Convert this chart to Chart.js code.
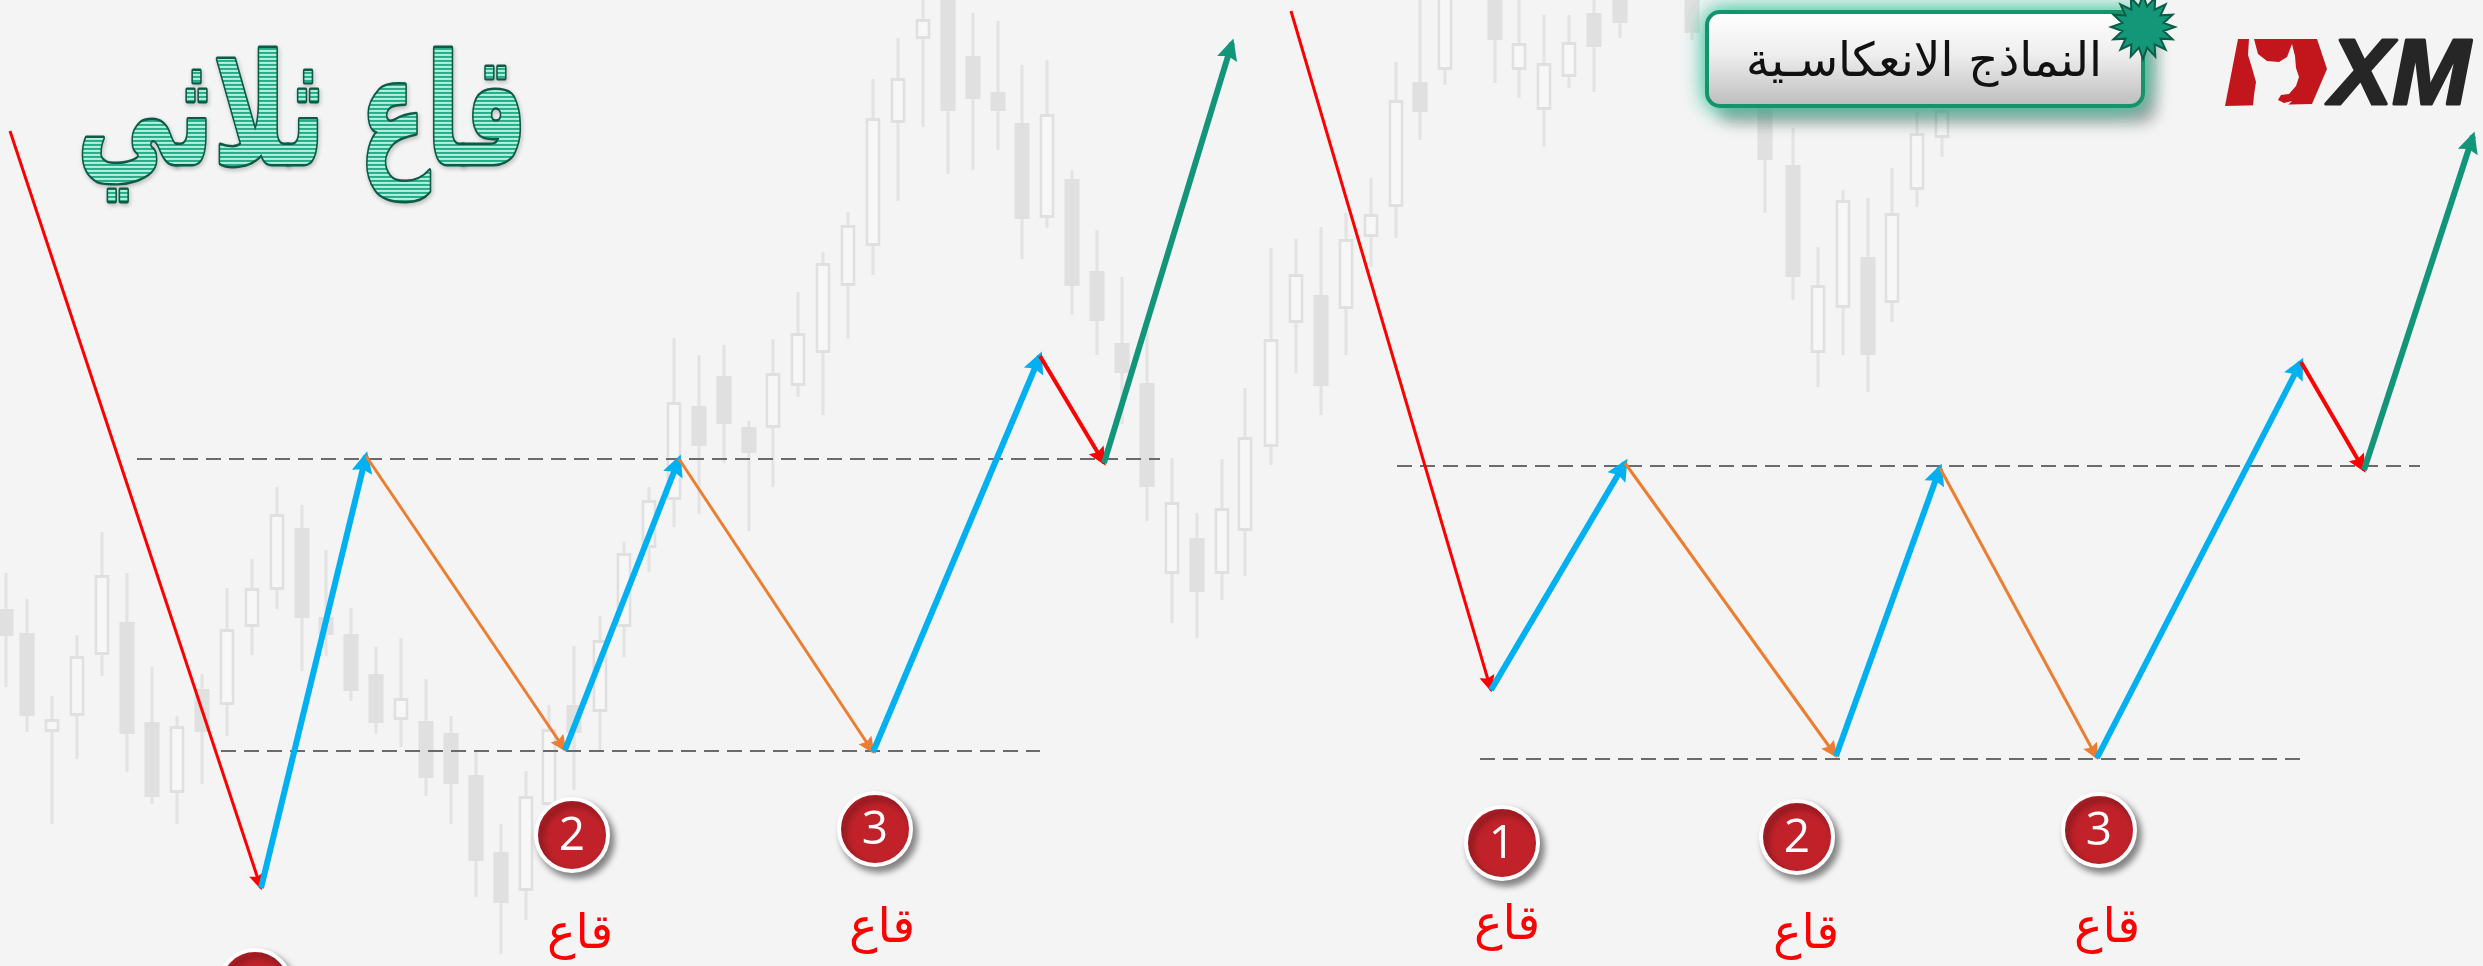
<!DOCTYPE html>
<html lang="ar">
<head>
<meta charset="utf-8">
<title>قاع ثلاثي</title>
<script src="https://cdn.jsdelivr.net/npm/chart.js@4.4.1/dist/chart.umd.min.js"></script>
<style>
  html, body { margin: 0; padding: 0; background: #f4f4f4; overflow: hidden; }
  canvas { display: block; }
</style>
</head>
<body>
<canvas id="patternChart" width="2483" height="966"></canvas>
<script>
// faded candles in the background (x, body top/bottom, wick top/bottom)
const candleX = [6,27,52,77,102,127,152,177,202,227, 252,277,302,326,351,376,401,426,451,476,
  501,526,549,574,600,624,649,674,699,724, 749,773,798,823,848,873,898,923,948,973,
  998,1022,1047,1072,1097,1122,1147,1172,1197,1222, 1245,1271,1296,1321,1346,1371,1396,1420,1445,1495,
  1519,1544,1569,1594,1620,1692,1765,1793,1818,1843, 1868,1892,1917,1942];
const bodyTop = [609,633,719,656,575,622,722,726,689,629, 588,514,528,617,634,674,698,721,733,775,
  852,796,729,705,640,553,500,402,406,376, 427,373,333,263,225,118,78,19,-10,56,
  92,123,114,179,271,343,383,502,538,508, 437,339,274,295,239,214,100,82,-10,-10,
  43,63,42,13,-10,-10,80,165,285,200, 257,213,133,110];
const bodyBottom = [636,716,732,716,655,734,797,793,732,705, 627,590,618,635,691,723,720,778,784,861,
  903,891,805,733,712,627,548,500,446,424, 453,428,386,353,286,246,123,39,111,99,
  111,219,218,286,321,373,487,574,592,574, 531,447,323,386,309,237,207,112,70,40,
  70,110,77,47,23,33,160,277,353,308, 355,303,190,138];
const wickTop = [573,599,696,635,532,573,667,716,674,588, 559,487,505,550,608,647,638,679,716,752,
  824,771,705,646,616,542,487,338,355,345, 421,339,292,252,212,79,38,0,-10,13,
  21,65,60,170,230,277,330,458,513,459, 388,248,239,227,213,178,62,-10,-10,-10,
  -10,15,15,-10,-10,-10,50,128,247,190, 198,168,112,60];
const wickBottom = [687,732,824,759,676,772,804,824,784,736, 655,609,671,656,701,734,747,796,824,897,
  954,920,852,790,752,657,572,527,514,463, 531,487,397,415,339,275,201,127,174,170,
  150,259,228,315,355,424,521,623,638,600, 576,465,373,415,355,267,238,140,85,83,
  98,147,88,92,38,40,213,300,387,355, 392,322,207,157];
const candleKind = 'FFHHHFFHFH' + 'HHFFFFHFFF' + 'FHHFHHHHFF' + 'FHHHHHHHFF' +
  'FFHFFFFHFH' + 'HHHFHHHFHF' + 'HHHFFFFFHH' + 'FHHH'; // F = filled, H = hollow

// the two zig-zag price paths (triple bottom)
const leftPathX = [10, 261, 366, 565, 679, 873, 1040, 1104, 1232];
const leftPathY = [131, 888, 456, 750, 459, 752, 356, 463, 43];
const rightPathX = [1291, 1491, 1625, 1836, 1940, 2097, 2301, 2364, 2473];
const rightPathY = [11, 690, 463, 756, 468, 758, 362, 470, 136];
const legColors = ['#ff0000', '#00b0f0', '#ed7d31', '#00b0f0', '#ed7d31', '#00b0f0', '#ff0000', '#13957a'];
const legWidths = [3, 6, 3, 6, 3, 6, 4, 6];

// resistance / support levels
const levelFromX = [137, 221, 1397, 1480];
const levelToX = [1160, 1040, 2420, 2301];
const levelY = [459, 751, 466, 759];

// numbered bottoms and their words
const bottomX = [255, 572, 875, 1502, 1797, 2099];
const bottomY = [986, 835, 829, 843, 837, 830];
const bottomNum = ['1', '2', '3', '1', '2', '3'];
const wordX = [258, 580, 882, 1507, 1806, 2107];
const wordY = [1088, 936, 930, 927, 936, 930];

const titleText = 'قاع ثلاثي';
const badgeText = 'النماذج الانعكاسـية';
const bottomWord = 'قاع';

const ctx = document.getElementById('patternChart').getContext('2d');

const filledBodies = [], hollowBodies = [], wicks = [];
candleX.forEach((x, i) => {
  wicks.push({ x, y: [wickTop[i], wickBottom[i]] });
  (candleKind[i] === 'H' ? hollowBodies : filledBodies).push({ x, y: [bodyTop[i], bodyBottom[i]] });
});

const datasets = [];
datasets.push({ type: 'bar', data: wicks, grouped: false, maxBarThickness: 3, backgroundColor: '#e3e3e3', order: 30 });
datasets.push({ type: 'bar', data: filledBodies, grouped: false, maxBarThickness: 18, backgroundColor: '#e0e0e0', borderWidth: 0, order: 29 });
datasets.push({ type: 'bar', data: hollowBodies, grouped: false, maxBarThickness: 18, backgroundColor: '#f7f7f7',
  borderColor: '#e0e0e0', borderWidth: 3, borderSkipped: false, order: 29 });

levelY.forEach((y, i) => {
  datasets.push({ type: 'line', data: [{ x: levelFromX[i], y }, { x: levelToX[i], y }],
    borderColor: '#6b6b6b', borderWidth: 2, borderDash: [15, 8], pointRadius: 0, order: 20 });
});

[[leftPathX, leftPathY], [rightPathX, rightPathY]].forEach(([px, py]) => {
  for (let i = 0; i < px.length - 1; i++) {
    datasets.push({ type: 'line', arrow: true,
      data: [{ x: px[i], y: py[i] }, { x: px[i + 1], y: py[i + 1] }],
      borderColor: legColors[i], borderWidth: legWidths[i], pointRadius: 0, order: 10 - i / 10 });
  }
});

datasets.push({ type: 'scatter', badges: true, data: bottomX.map((x, i) => ({ x, y: bottomY[i] })),
  pointRadius: 36, pointHoverRadius: 36, backgroundColor: '#c1222a', borderColor: '#ffffff', borderWidth: 4, order: 1 });

function drawHead(c, p0, p1, color, w) {
  const ang = Math.atan2(p1.y - p0.y, p1.x - p0.x);
  const len = 12 + w * 1.6, half = 5 + w * 0.9;
  c.save();
  c.translate(p1.x, p1.y);
  c.rotate(ang);
  c.translate(w * 0.8, 0);
  c.beginPath();
  c.moveTo(0, 0);
  c.lineTo(-len, -half);
  c.lineTo(-len * 0.85, 0);
  c.lineTo(-len, half);
  c.closePath();
  c.fillStyle = color;
  c.fill();
  c.restore();
}

function fitFont(c, text, weight, family, width, base) {
  c.font = weight + ' ' + base + 'px ' + family;
  return base * width / c.measureText(text).width;
}

function drawTitle(c) {
  const pat = document.createElement('canvas');
  pat.width = 4; pat.height = 4;
  const pc = pat.getContext('2d');
  pc.fillStyle = '#b4efdc'; pc.fillRect(0, 0, 4, 4);
  pc.fillStyle = '#25ad8a'; pc.fillRect(0, 0, 4, 2);
  // fit the word box to x 83..520, y 48..202
  c.save();
  c.font = 'bold 100px "DejaVu Sans"';
  c.direction = 'rtl';
  c.textAlign = 'left';
  c.textBaseline = 'alphabetic';
  const m = c.measureText(titleText);
  const bw = m.actualBoundingBoxLeft + m.actualBoundingBoxRight;
  const bh = m.actualBoundingBoxAscent + m.actualBoundingBoxDescent;
  const sx = 437 / bw, sy = 154 / bh;
  c.translate(83 + m.actualBoundingBoxLeft * sx, 48 + m.actualBoundingBoxAscent * sy);
  c.scale(sx, sy);
  c.lineJoin = 'round';
  c.shadowColor = 'rgba(0,0,0,0.25)';
  c.shadowBlur = 4;
  c.shadowOffsetX = 1; c.shadowOffsetY = 2;
  c.strokeStyle = '#0d5a45';
  c.lineWidth = 3.2;
  c.strokeText(titleText, 0, 0);
  c.shadowColor = 'transparent';
  c.setTransform(1, 0, 0, 1, 0, 0);
  c.fillStyle = c.createPattern(pat, 'repeat');
  c.translate(83 + m.actualBoundingBoxLeft * sx, 48 + m.actualBoundingBoxAscent * sy);
  c.scale(sx, sy);
  const p = c.fillStyle;
  if (p.setTransform) p.setTransform(new DOMMatrix([1 / sx, 0, 0, 1 / sy, 0, 0]));
  c.fillText(titleText, 0, 0);
  c.restore();
}

function roundRect(c, x, y, w, h, r) {
  c.beginPath();
  c.moveTo(x + r, y);
  c.arcTo(x + w, y, x + w, y + h, r);
  c.arcTo(x + w, y + h, x, y + h, r);
  c.arcTo(x, y + h, x, y, r);
  c.arcTo(x, y, x + w, y, r);
  c.closePath();
}

function drawBadge(c) {
  const x = 1707, y = 12, w = 436, h = 94;
  c.save();
  roundRect(c, x, y, w, h, 13);
  c.shadowColor = 'rgba(0,0,0,0.35)';
  c.shadowBlur = 16; c.shadowOffsetX = 12; c.shadowOffsetY = 16;
  c.fillStyle = '#cccccc'; c.fill();
  c.shadowColor = 'rgba(60,200,160,0.9)';
  c.shadowBlur = 22; c.shadowOffsetX = 0; c.shadowOffsetY = 0;
  c.fill(); c.fill();
  c.shadowColor = 'transparent';
  const g = c.createLinearGradient(0, y, 0, y + h);
  g.addColorStop(0, '#ffffff'); g.addColorStop(0.45, '#eeeeee'); g.addColorStop(1, '#bdbdbd');
  c.fillStyle = g; c.fill();
  c.lineWidth = 4; c.strokeStyle = '#17936a'; c.stroke();
  const size = fitFont(c, badgeText, 'normal', '"DejaVu Sans"', 356, 46);
  c.font = size + 'px "DejaVu Sans"';
  c.fillStyle = '#111111';
  c.textAlign = 'center'; c.textBaseline = 'alphabetic'; c.direction = 'rtl';
  c.fillText(badgeText, 1924, 76);
  // star burst
  const cx = 2143, cy = 27, n = 16;
  c.beginPath();
  for (let i = 0; i < n * 2; i++) {
    const r = i % 2 === 0 ? 32 : 21;
    const a = -Math.PI / 2 + i * Math.PI / n;
    const px = cx + r * Math.cos(a), py = cy + r * Math.sin(a);
    i === 0 ? c.moveTo(px, py) : c.lineTo(px, py);
  }
  c.closePath();
  c.fillStyle = '#149678'; c.fill();
  c.lineWidth = 2; c.strokeStyle = '#0b5c46'; c.stroke();
  c.restore();
}

function drawLogo(c) {
  c.save();
  c.beginPath();
  c.moveTo(2238, 39); c.lineTo(2317, 39); c.lineTo(2327, 69); c.lineTo(2312, 104); c.lineTo(2225, 106);
  c.closePath();
  c.fillStyle = '#c3161c'; c.fill();
  // bull head cut out of the red block
  const bull = [[2249,39],[2254,39],[2258,54],[2267,61],[2279,62],[2287,57],[2292,44],[2295,56],[2296,68],
    [2299,77],[2296,86],[2289,94],[2281,95],[2278,100],[2284,103],[2292,101],[2287,106],[2253,106],
    [2254,95],[2256,82],[2252,68],[2248,55]];
  c.beginPath();
  bull.forEach(([x, y], i) => i === 0 ? c.moveTo(x, y) : c.lineTo(x, y));
  c.closePath();
  c.fillStyle = '#f4f4f4'; c.fill();
  c.font = 'italic bold 92px "Liberation Sans"';
  const wXM = c.measureText('XM').width;
  c.translate(2330, 104);
  c.scale(140 / wXM, 1);
  c.fillStyle = '#262626';
  c.strokeStyle = '#262626'; c.lineWidth = 3; c.lineJoin = 'round';
  c.textAlign = 'left'; c.textBaseline = 'alphabetic';
  c.fillText('XM', 0, 0); c.strokeText('XM', 0, 0);
  c.restore();
}

const artwork = {
  id: 'artwork',
  beforeDraw(chart) {
    const c = chart.ctx;
    c.save(); c.fillStyle = '#f4f4f4'; c.fillRect(0, 0, chart.width, chart.height); c.restore();
  },
  beforeDatasetDraw(chart, args) {
    const ds = chart.data.datasets[args.index];
    if (ds.badges) {
      const c = chart.ctx;
      c.save();
      c.shadowColor = 'rgba(0,0,0,0.45)';
      c.shadowBlur = 7; c.shadowOffsetX = 4; c.shadowOffsetY = 5;
    }
  },
  afterDatasetDraw(chart, args) {
    const ds = chart.data.datasets[args.index];
    const c = chart.ctx;
    if (ds.arrow) {
      const pts = args.meta.data;
      drawHead(c, pts[0], pts[1], ds.borderColor, ds.borderWidth);
    }
    if (ds.badges) {
      c.restore();
      c.save();
      c.font = '46px "Open Sans"';
      c.fillStyle = '#ffffff';
      c.textAlign = 'center'; c.textBaseline = 'middle';
      args.meta.data.forEach((p, i) => c.fillText(bottomNum[i], p.x, p.y + 2));
      const xs = chart.scales.x, ys = chart.scales.y;
      c.font = '48px "DejaVu Sans"';
      c.fillStyle = '#ff0000';
      c.direction = 'rtl';
      wordX.forEach((x, i) => c.fillText(bottomWord, xs.getPixelForValue(x), ys.getPixelForValue(wordY[i])));
      c.restore();
    }
  },
  afterDraw(chart) {
    const c = chart.ctx;
    drawTitle(c);
    drawBadge(c);
    drawLogo(c);
  }
};

const chart = new Chart(ctx, {
  data: { datasets },
  options: {
    responsive: false,
    devicePixelRatio: 1,
    animation: false,
    events: [],
    layout: { padding: 0, autoPadding: false },
    scales: {
      x: { type: 'linear', min: 0, max: 2483, display: false, offset: false },
      y: { type: 'linear', min: 0, max: 966, reverse: true, display: false }
    },
    plugins: { legend: { display: false }, tooltip: { enabled: false } }
  },
  plugins: [artwork]
});
</script>
</body>
</html>
